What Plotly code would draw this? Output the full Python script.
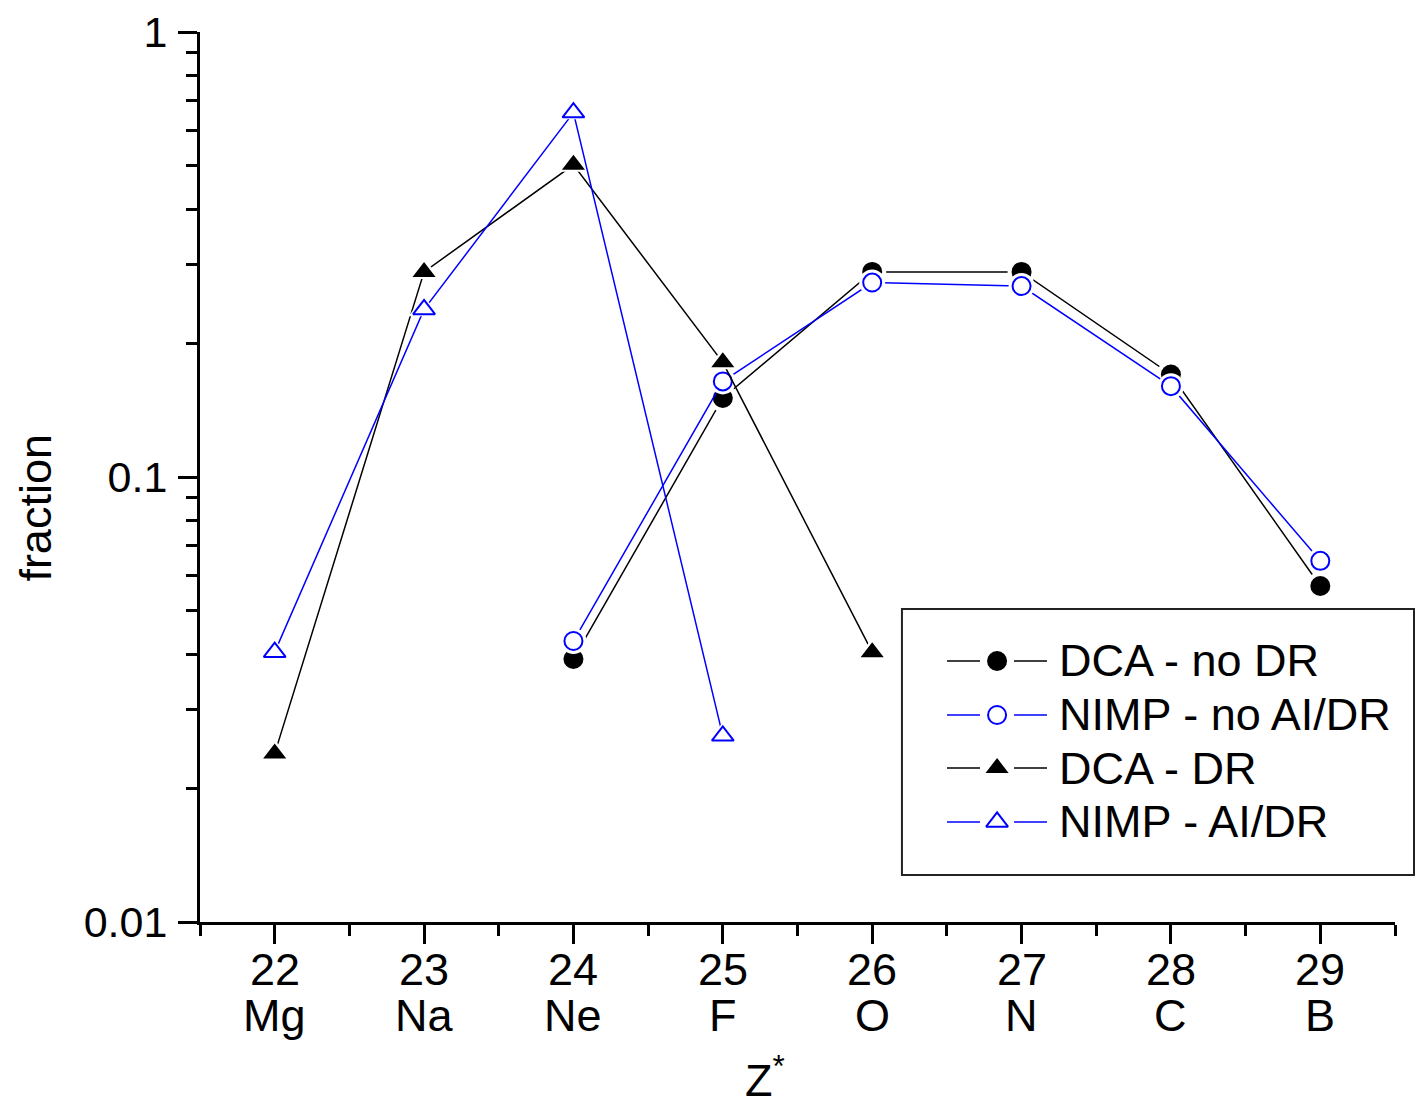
import plotly.graph_objects as go

# Charge states and their ion labels
z_values = [22, 23, 24, 25, 26, 27, 28, 29]
elements = ["Mg", "Na", "Ne", "F", "O", "N", "C", "B"]

# Fractional abundances per model
z_dca_nodr = [24, 25, 26, 27, 28, 29]
f_dca_nodr = [0.0390, 0.1505, 0.289, 0.289, 0.170, 0.0569]

z_nimp_noaidr = [24, 25, 26, 27, 28, 29]
f_nimp_noaidr = [0.0428, 0.164, 0.2735, 0.2686, 0.160, 0.0648]

z_dca_dr = [22, 23, 24, 25, 26]
f_dca_dr = [0.0239, 0.289, 0.503, 0.181, 0.0404]

z_nimp_aidr = [22, 23, 24, 25]
f_nimp_aidr = [0.0404, 0.238, 0.659, 0.0262]

series_names = ["DCA - no DR", "NIMP - no AI/DR", "DCA - DR", "NIMP - AI/DR"]

FONT = "Liberation Sans, Arial, Helvetica, sans-serif"
FS = 45
BLUE = "#0000ff"
BLACK = "#000000"

styles = [
    dict(color=BLACK, symbol="circle", size=20, fill=BLACK, lw=0),
    dict(color=BLUE, symbol="circle", size=18, fill="white", lw=2),
    dict(color=BLACK, symbol="triangle-up", size=20, fill=BLACK, lw=0),
    dict(color=BLUE, symbol="triangle-up", size=19, fill="white", lw=2),
]
data = [
    (z_dca_nodr, f_dca_nodr),
    (z_nimp_noaidr, f_nimp_noaidr),
    (z_dca_dr, f_dca_dr),
    (z_nimp_aidr, f_nimp_aidr),
]

fig = go.Figure()

for (zs, fs), st in zip(data, styles):
    # connecting line
    fig.add_trace(go.Scatter(x=zs, y=fs, mode="lines",
                             line=dict(color=st["color"], width=1.5),
                             showlegend=False, hoverinfo="skip"))
    # white halo so the lines stop short of the symbols
    fig.add_trace(go.Scatter(x=zs, y=fs, mode="markers",
                             marker=dict(symbol=st["symbol"], size=st["size"] + 8,
                                         color="white", line=dict(width=0)),
                             showlegend=False, hoverinfo="skip"))
    # symbols
    fig.add_trace(go.Scatter(x=zs, y=fs, mode="markers",
                             marker=dict(symbol=st["symbol"], size=st["size"],
                                         color=st["fill"],
                                         line=dict(color=st["color"], width=st["lw"])),
                             showlegend=False))

# Legend drawn on an overlay axis spanning the plot area in paper units
leg_rows = [0.2933, 0.2326, 0.1730, 0.1124]
leg_line_l = [0.6251, 0.6527]
leg_line_r = [0.6812, 0.7088]
leg_mark_x = 0.667
leg_text_x = 0.7171

for name, st, yr in zip(series_names, styles, leg_rows):
    fig.add_trace(go.Scatter(
        x=[leg_line_l[0], leg_line_l[1], None, leg_line_r[0], leg_line_r[1]],
        y=[yr, yr, None, yr, yr], mode="lines",
        line=dict(color=st["color"], width=1.5),
        xaxis="x2", yaxis="y2", showlegend=False, hoverinfo="skip"))
    fig.add_trace(go.Scatter(
        x=[leg_mark_x], y=[yr], mode="markers",
        marker=dict(symbol=st["symbol"], size=st["size"], color=st["fill"],
                    line=dict(color=st["color"], width=st["lw"])),
        xaxis="x2", yaxis="y2", showlegend=False, hoverinfo="skip"))
    fig.add_annotation(x=leg_text_x, y=yr, xref="paper", yref="paper",
                       text=name, showarrow=False, xanchor="left", yanchor="middle",
                       font=dict(family=FONT, size=FS, color="black"))

# Legend frame
fig.add_shape(type="rect", xref="paper", yref="paper",
              x0=0.5874, x1=1.0159, y0=0.0528, y1=0.3517,
              line=dict(color="#222222", width=2), fillcolor="rgba(0,0,0,0)",
              layer="below")

# Two-line category labels: charge state above the element symbol
for zv, el in zip(z_values, elements):
    fig.add_annotation(x=zv, y=-0.0530, xref="x", yref="paper", text=str(zv),
                       showarrow=False, xanchor="center", yanchor="middle",
                       font=dict(family=FONT, size=FS, color="black"))
    fig.add_annotation(x=zv, y=-0.1055, xref="x", yref="paper", text=el,
                       showarrow=False, xanchor="center", yanchor="middle",
                       font=dict(family=FONT, size=FS, color="black"))

# Axis titles
fig.add_annotation(x=0.4728, y=-0.1740, xref="paper", yref="paper",
                   text="Z<sup>*</sup>", showarrow=False,
                   xanchor="center", yanchor="middle",
                   font=dict(family=FONT, size=FS, color="black"))
fig.add_annotation(x=-0.138, y=0.4657, xref="paper", yref="paper",
                   text="fraction", textangle=-90, showarrow=False,
                   xanchor="center", yanchor="middle",
                   font=dict(family=FONT, size=FS, color="black"))

minor_x = [v + 0.5 for v in range(21, 30)]
minor_y = [m * 10 ** e for e in (-2, -1) for m in range(2, 10)]

fig.update_layout(
    width=1416, height=1098,
    margin=dict(l=200, r=21, t=32, b=176),
    paper_bgcolor="white", plot_bgcolor="white",
    font=dict(family=FONT, size=FS, color="black"),
    xaxis=dict(
        range=[21.5, 29.5], tickmode="array", tickvals=z_values,
        showticklabels=False,
        ticks="outside", ticklen=19, tickwidth=3, tickcolor="black",
        showline=True, linewidth=3, linecolor="black",
        showgrid=False, zeroline=False, automargin=False,
        minor=dict(tickvals=minor_x, ticks="outside", ticklen=11,
                   tickwidth=3, tickcolor="black", showgrid=False),
    ),
    yaxis=dict(
        type="log", range=[-2, 0], tickmode="array",
        tickvals=[0.01, 0.1, 1], ticktext=["0.01", "0.1", "1"],
        ticks="outside", ticklen=19, tickwidth=3, tickcolor="black",
        ticklabelstandoff=2,
        showline=True, linewidth=3, linecolor="black",
        showgrid=False, zeroline=False, automargin=False,
        minor=dict(tickvals=minor_y, ticks="outside", ticklen=11,
                   tickwidth=3, tickcolor="black", showgrid=False),
        tickfont=dict(family=FONT, size=43, color="black"),
    ),
    xaxis2=dict(overlaying="x", range=[0, 1], visible=False, domain=[0, 1]),
    yaxis2=dict(overlaying="y", range=[0, 1], visible=False, domain=[0, 1]),
)

fig.write_html("out.html")
